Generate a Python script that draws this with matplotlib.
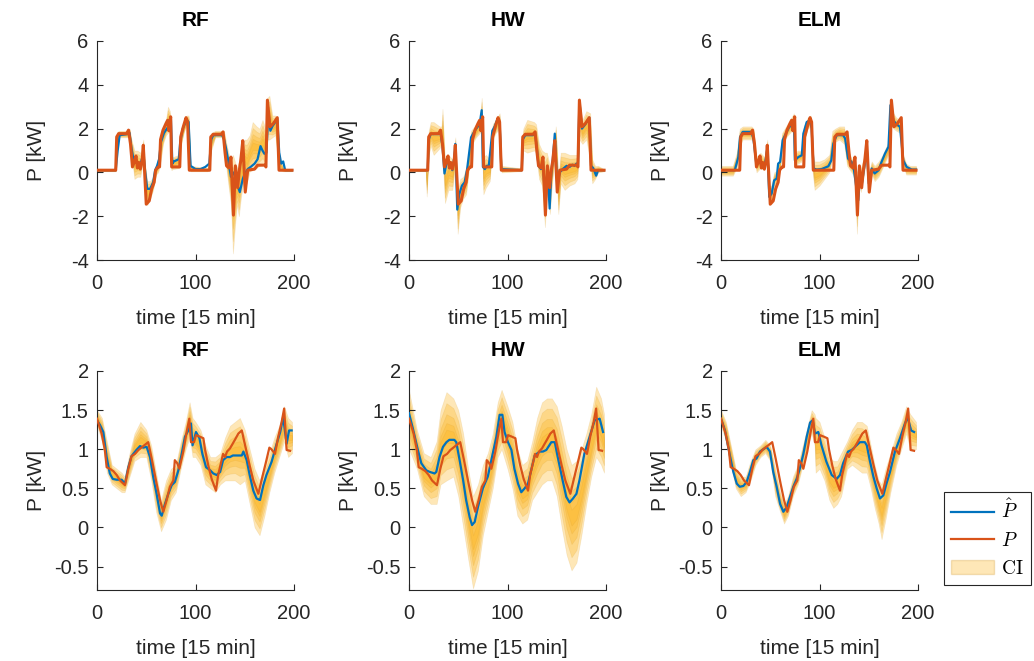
import numpy as np
import matplotlib
matplotlib.use('Agg')
import matplotlib.pyplot as plt
from matplotlib.patches import Patch
from matplotlib.lines import Line2D

plt.rcParams['font.family'] = ['Liberation Sans', 'DejaVu Sans']
plt.rcParams['mathtext.fontset'] = 'cm'

# ---------------- data ----------------
models = ['RF', 'HW', 'ELM']
x_ticks = [0, 100, 200]
top_yticks = [-4, -2, 0, 2, 4, 6]
top_yticklabels = ['-4', '-2', '0', '2', '4', '6']
bot_yticks = [-0.5, 0, 0.5, 1, 1.5, 2]
bot_yticklabels = ['-0.5', '0', '0.5', '1', '1.5', '2']

# --- top row: measured P ---
t_top_P = [0, 19, 20, 22, 30, 32, 34, 36, 38, 39.6, 41, 42.5, 44, 46, 47, 48.7, 50, 53, 55.5, 58,
           59.5, 62, 63.5, 64.5, 67, 70, 71.7, 73, 74.8, 75.8, 84, 85, 87.6, 90.4, 92, 93.7, 114.5,
           115.5, 118, 126, 128, 130, 131.5, 134, 136, 138.5, 140.5, 142.8, 144.5, 146, 148, 150.5,
           153, 160, 163, 170.5, 171.5, 173, 175.6, 179, 183, 184.8, 198]
P_top = [0.1, 0.1, 1.62, 1.77, 1.77, 1.93, 1.3, 0.25, 0.5, 0.75, 0.2, 0.45, 0.15, 0.6, 1.24, -0.3,
         -1.45, -1.3, -0.75, -0.45, 0.1, 0.25, 0.25, 1.5, 1.93, 2.23, 2.38, 1.9, 2.54, 0.25, 0.25,
         1.62, 2.08, 2.5, 2.3, 0.1, 0.1, 1.62, 1.74, 1.74, 1.85, 0.9, 0.3, 0.2, 0.7, -1.95, 0.3,
         -0.7, 0.1, 0.55, 1.45, -0.9, 0.1, 0.15, 0.33, 0.33, 0.25, 3.3, 2.08, 2.23, 2.5, 0.1, 0.1]

# --- top row: RF ---
t_top_rf = [0, 19, 21, 23, 31, 33, 35, 37, 40, 43, 45, 47, 49, 51, 54, 57, 59, 61, 63, 65, 68, 71,
            73, 75, 76.5, 78, 83, 84.5, 87, 91, 93, 95, 100, 105, 110, 114, 116, 118, 127, 129, 131,
            133, 136, 139, 142, 145, 148, 150, 153, 156, 160, 163, 166, 168, 170, 172, 174, 176,
            178, 181, 183, 185, 187, 189, 191, 198]
Phat_top_rf = [0.1, 0.1, 1.0, 1.7, 1.75, 1.8, 1.1, 0.6, 0.45, 0.4, 0.5, 0.9, 0.0, -0.75, -0.75,
               -0.45, 0.1, 0.3, 0.6, 1.4, 1.8, 2.0, 2.1, 2.5, 0.4, 0.5, 0.6, 1.4, 2.0, 2.4, 2.3,
               0.3, 0.15, 0.15, 0.25, 0.4, 1.5, 1.7, 1.7, 1.5, 1.1, 0.6, -0.2, 0.0, -0.5, -0.9,
               -0.3, -0.05, 0.15, 0.25, 0.4, 0.6, 1.2, 1.0, 0.85, 0.9, 2.8, 1.9, 2.1, 2.3, 2.45,
               0.9, 0.4, 0.5, 0.1, 0.1]
tci_top_rf = [0, 19, 20, 22, 31, 33, 35, 38, 41, 44, 47, 49, 51, 54, 57, 60, 62, 64, 67, 70, 72,
              74, 75.5, 77, 83, 85, 88, 91, 93, 95, 112, 114, 116, 120, 127, 129, 131, 134, 136,
              138, 140, 142, 144, 146, 148, 150, 152, 155, 158, 162, 165, 168, 171, 173, 175, 178,
              181, 184, 186, 189, 192, 198]
lo_top_rf = [0.05, 0.05, 0.8, 1.6, 1.6, 1.6, 0.8, -0.3, -0.2, -0.2, 0.6, -0.7, -1.5, -1.2, -0.8,
             -0.1, 0.0, 0.3, 1.3, 1.7, 1.8, 1.9, 0.1, 0.15, 0.2, 1.2, 1.8, 2.2, 2.0, 0.05, 0.05,
             0.1, 1.0, 1.6, 1.6, 1.2, 0.3, -0.8, -1.5, -3.7, -2.5, -1.5, -2.0, -1.2, -0.6, -0.2,
             -0.5, 0.05, 0.1, 0.2, 0.3, 0.4, 0.2, 1.5, 1.5, 1.6, 1.7, 0.4, 0.1, 0.05, 0.05, 0.05]
hi_top_rf = [0.15, 0.15, 1.8, 1.9, 1.9, 2.0, 1.5, 1.0, 1.0, 0.9, 1.5, 0.3, -0.4, -0.4, -0.2, 0.3,
             0.7, 1.6, 2.0, 2.4, 3.0, 2.8, 0.7, 0.7, 0.8, 1.7, 2.2, 2.6, 2.6, 0.3, 0.2, 0.5, 1.8,
             1.9, 1.9, 1.9, 1.4, 0.8, 0.5, 0.8, 0.5, 0.2, 0.5, 1.0, 1.2, 1.5, 1.5, 1.7, 2.3, 2.1,
             2.0, 2.4, 2.0, 3.4, 3.5, 2.6, 2.6, 1.2, 0.6, 0.2, 0.15, 0.15]

# --- top row: HW ---
t_top_hw = [0, 19, 20, 22, 30, 32, 34, 36, 38, 39.6, 41, 42.5, 44, 46, 47, 49, 51, 53.8, 56.5, 59,
            63, 66.7, 70, 71.7, 73.8, 75, 77, 79, 81, 84.6, 87, 90, 92, 93.7, 114.5, 115.5, 118,
            126, 128, 130, 131.5, 134, 136, 138.5, 140.5, 142.8, 144.5, 146, 148, 150.5, 153, 156,
            160, 163, 166, 168, 170, 171.5, 173, 175.6, 179, 183, 184.8, 187, 190, 192, 198]
Phat_top_hw = [0.1, 0.1, 1.5, 1.75, 1.75, 1.8, 1.2, -0.05, 0.4, 0.6, 0.2, 0.35, 0.1, 0.7, 1.3,
               -1.7, -1.0, -0.6, -0.45, 0.15, 1.6, 1.9, 2.1, 2.2, 2.84, 0.25, 0.15, 0.3, 0.3,
               1.9, 2.1, 2.45, 2.3, 0.15, 0.1, 1.5, 1.7, 1.7, 1.8, 1.0, 0.3, 0.15, 0.5, -1.6,
               0.1, -1.65, 0.0, 0.6, 1.77, -0.6, 0.0, 0.15, 0.3, 0.25, 0.35, 0.3, 0.4, 0.3, 3.25,
               2.0, 2.2, 2.5, 0.3, 0.2, -0.15, 0.1, 0.1]
tci_top_hw = [0, 17, 18, 19, 20, 22, 25, 31, 33, 34, 36.5, 40, 44, 46, 47, 49.4, 52, 55, 58, 60,
              63, 68, 72, 73.8, 75.5, 78, 82, 85, 88, 92, 94, 112, 114, 116, 120, 127, 129, 132,
              135, 138, 140, 143, 145, 147, 149, 151.6, 154, 158, 163, 168, 171, 173, 176, 180,
              184, 186, 189, 192, 198]
lo_top_hw = [0.05, 0.05, -1.1, 0.05, 0.8, 1.2, 0.8, 1.1, 1.3, 0.8, -1.4, -0.8, -0.8, 0.0, 0.9,
             -2.8, -1.6, -1.2, -1.0, -0.2, 1.2, 1.6, 1.8, 1.9, -1.0, -0.7, -0.4, 1.5, 1.8, 2.0,
             0.0, 0.05, 0.05, 1.0, 0.9, 1.0, 0.9, -0.3, -0.6, -2.5, -0.7, -1.9, -0.6, 0.3, 0.9,
             -1.9, -0.5, -0.8, -0.6, -0.5, -0.3, 1.5, 1.3, 1.5, 0.5, -0.5, -0.3, 0.0, 0.05]
hi_top_hw = [0.15, 0.15, 0.2, 0.15, 1.9, 2.3, 2.3, 2.1, 2.1, 2.9, 0.5, 0.8, 0.6, 1.0, 1.6, -0.8,
             -0.3, -0.2, 0.2, 0.5, 1.9, 2.2, 2.5, 3.4, 0.7, 0.8, 0.6, 2.2, 2.4, 2.7, 0.3, 0.2, 0.3,
             2.0, 2.4, 2.3, 2.2, 1.3, 1.0, 0.9, 0.9, 0.3, 0.5, 1.2, 2.1, -0.2, 0.9, 0.9, 0.8, 0.8,
             0.8, 3.4, 2.4, 2.8, 2.7, 0.6, 0.3, 0.3, 0.15]

# --- top row: ELM ---
t_top_elm = [0, 14, 17.6, 19.3, 22, 31, 33, 36, 39.6, 41, 44.7, 47, 49, 51.4, 54, 56.5, 58, 60,
             62.6, 66.7, 70, 72.4, 74, 75, 78.5, 82, 83.6, 87, 90.4, 92, 94, 97, 102, 109, 112,
             114, 117.4, 124, 126, 129, 132.6, 135, 137.7, 139.4, 141, 142.8, 145.5, 148, 150,
             153, 156, 160, 163, 166.5, 170, 172, 175, 178, 181.7, 185, 188.5, 193.6, 198]
Phat_top_elm = [0.1, 0.1, 0.7, 1.6, 1.85, 1.85, 1.5, 0.33, 0.63, 0.25, 0.4, 1.1, -1.12, -0.97,
                -0.36, -0.28, 0.4, 0.48, 1.47, 1.85, 2.15, 2.05, 2.3, 0.55, 0.7, 0.78, 1.77, 2.3,
                2.38, 2.0, 0.18, 0.13, 0.15, 0.28, 0.55, 1.3, 1.7, 1.7, 1.55, 0.63, 0.48, 0.1,
                -0.8, -1.27, -0.2, -0.58, 0.25, 1.1, -0.5, 0.18, -0.05, 0.1, 0.48, 0.86, 1.17,
                3.07, 2.38, 2.2, 2.08, 0.55, 0.25, 0.13, 0.13]
tci_top_elm = [0, 12, 16, 19, 22, 31, 33, 36, 40, 44, 47, 49, 51, 54, 57, 60, 62, 66, 70, 74, 75,
               78, 82, 84, 88, 91, 93, 95, 100, 105, 110, 113, 116, 120, 125, 128, 131, 134, 136,
               138, 140, 142, 145, 148, 150, 153, 156, 160, 164, 168, 171, 172, 175, 178, 182,
               185, 188, 192, 198]
lo_top_elm = [-0.15, -0.15, 0.2, 1.2, 1.5, 1.5, 1.4, 0.0, 0.2, 0.1, 0.7, -1.5, -1.3, -0.6, -0.5,
              0.1, 1.1, 1.6, 1.8, 2.0, 0.3, 0.4, 0.5, 1.4, 2.0, 2.1, 0.0, -0.8, -0.6, -0.3, 0.0,
              0.6, 1.4, 1.5, 1.3, 0.3, 0.1, -0.1, -0.5, -2.8, -0.5, -0.9, -0.1, 0.7, -0.8, -0.1,
              -0.4, -0.2, 0.2, 0.6, 0.9, 2.6, 2.0, 1.9, 1.8, 0.3, -0.1, -0.1, -0.1]
hi_top_elm = [0.3, 0.3, 0.9, 2.0, 2.1, 2.1, 2.0, 0.7, 0.9, 0.7, 1.5, -0.6, -0.6, 0.0, 0.1, 0.8,
              1.8, 2.1, 2.4, 2.7, 0.9, 1.0, 1.0, 2.1, 2.5, 2.6, 1.0, 0.5, 0.5, 0.6, 0.8, 1.9, 2.0,
              2.1, 2.1, 1.1, 0.8, 0.5, 0.6, 0.0, 0.3, 0.2, 0.7, 1.5, 0.0, 0.5, 0.3, 0.5, 0.8, 1.2,
              1.5, 3.3, 2.7, 2.5, 2.4, 0.8, 0.4, 0.3, 0.3]

# --- bottom row: measured P ---
t_bot_P = [0, 4.7, 8, 9.8, 13, 16.6, 20, 23.4, 28.4, 31.8, 35, 38.6, 42, 47, 52, 55.5, 60.5, 64,
           67.3, 70.7, 74, 77.5, 79, 81.5, 83.6, 87.6, 91, 93.7, 95.4, 98.5, 100.5, 104.5, 108,
           109.6, 113, 116.4, 120.8, 123, 128, 130, 132, 135, 140, 143.5, 147, 150, 155, 158.7,
           163.8, 167, 172, 175, 177, 180.7, 184, 187.5, 190, 192.5, 196]
P_bot = [1.39, 1.2, 0.99, 0.77, 0.75, 0.72, 0.67, 0.6, 0.54, 0.75, 0.91, 0.94, 0.99, 1.04, 1.09,
         0.88, 0.56, 0.35, 0.2, 0.35, 0.52, 0.6, 0.86, 0.82, 0.75, 0.97, 1.22, 1.39, 1.09, 1.09,
         1.18, 1.16, 1.14, 1.0, 0.79, 0.62, 0.47, 0.67, 0.94, 0.9, 0.97, 1.01, 1.12, 1.2, 1.24,
         1.07, 0.79, 0.6, 0.43, 0.6, 0.86, 1.02, 1.0, 0.94, 1.16, 1.35, 1.52, 0.99, 0.98]

# --- bottom row: RF ---
t_bot_rf = [0, 3, 6.4, 9.8, 13, 16, 20, 25, 28.4, 31.8, 35, 40, 43.7, 47, 50.4, 53.8, 57, 60.5,
            64, 65.7, 69, 72.4, 75.8, 79, 82.6, 86, 89.3, 92.7, 95.4, 97, 100.5, 104, 107, 110.7,
            115, 118, 121.5, 125, 128, 131.6, 135, 138, 143.5, 147, 148.6, 152, 155, 158.7, 162,
            165.5, 168.9, 172, 177.3, 182.4, 186, 189, 192.5, 195, 197.6]
Phat_bot_rf = [1.37, 1.31, 1.22, 0.9, 0.69, 0.62, 0.61, 0.61, 0.56, 0.77, 0.91, 0.99, 1.04, 1.02,
               1.03, 0.9, 0.65, 0.43, 0.18, 0.15, 0.3, 0.43, 0.54, 0.58, 0.73, 0.94, 1.16, 1.24,
               1.33, 1.05, 1.22, 1.14, 0.94, 0.77, 0.73, 0.69, 0.67, 0.71, 0.86, 0.9, 0.9, 0.92,
               0.92, 0.92, 0.97, 0.86, 0.67, 0.47, 0.37, 0.35, 0.54, 0.67, 0.84, 1.07, 1.22, 1.41,
               1.07, 1.24, 1.24]
tci_bot_rf = [0, 5, 10, 15, 20, 25, 28, 33, 38, 44, 50, 55, 60, 65, 70, 75, 80, 85, 90, 94, 97,
              100, 105, 110, 115, 120, 125, 130, 135, 140, 145, 150, 155, 160, 165, 170, 175, 180,
              185, 190, 194, 198]
lo_bot_rf = [1.3, 1.1, 0.7, 0.55, 0.5, 0.45, 0.45, 0.65, 0.85, 0.9, 0.9, 0.6, 0.2, -0.05, 0.1,
             0.35, 0.45, 0.75, 1.0, 1.15, 0.9, 0.9, 0.8, 0.55, 0.5, 0.45, 0.55, 0.6, 0.6, 0.6,
             0.55, 0.6, 0.3, 0.0, -0.1, 0.15, 0.45, 0.7, 0.9, 1.1, 0.9, 0.95]
hi_bot_rf = [1.5, 1.4, 1.1, 0.8, 0.75, 0.7, 0.65, 0.95, 1.2, 1.35, 1.25, 1.05, 0.7, 0.35, 0.6,
             0.75, 0.8, 1.1, 1.35, 1.6, 1.4, 1.35, 1.25, 1.05, 0.9, 0.9, 0.95, 1.15, 1.3, 1.35,
             1.4, 1.25, 1.0, 0.75, 0.6, 0.8, 0.95, 1.15, 1.3, 1.55, 1.4, 1.35]

# --- bottom row: HW ---
t_bot_hw = [0, 4, 9, 12.5, 17.6, 21, 26, 27.7, 31, 34.5, 38, 41, 46, 48, 51.4, 55, 58, 61.6, 64,
            66.7, 70, 75, 80, 83.6, 88.7, 92, 94.8, 97, 100.5, 104, 107, 110.7, 114, 117.4, 120.8,
            124, 127.6, 132.7, 136, 139.4, 144.5, 148, 151, 156, 159.7, 163, 166.5, 170, 173, 178,
            183.4, 188.5, 193.6, 197]
Phat_bot_hw = [1.46, 1.26, 0.99, 0.82, 0.73, 0.71, 0.69, 0.71, 0.9, 1.03, 1.09, 1.12, 1.12, 1.09,
               0.86, 0.6, 0.35, 0.13, 0.03, 0.07, 0.26, 0.5, 0.65, 0.86, 1.16, 1.44, 1.44, 1.22,
               1.09, 0.99, 0.75, 0.56, 0.45, 0.5, 0.56, 0.73, 0.92, 0.97, 0.97, 0.99, 1.09, 1.09,
               0.9, 0.6, 0.39, 0.32, 0.37, 0.43, 0.6, 0.94, 1.16, 1.37, 1.39, 1.22]
tci_bot_hw = [0, 8, 15, 22, 28, 32, 38, 45, 50, 55, 60, 65, 70, 75, 80, 85, 90, 94, 100, 105, 110,
              115, 120, 125, 130, 135, 140, 145, 150, 155, 160, 165, 170, 175, 180, 185, 190, 195,
              198]
lo_bot_hw = [1.0, 0.75, 0.4, 0.3, 0.3, 0.55, 0.6, 0.65, 0.4, 0.0, -0.4, -0.78, -0.55, -0.1, 0.2,
             0.5, 0.9, 1.0, 0.75, 0.5, 0.15, 0.05, 0.1, 0.35, 0.45, 0.55, 0.6, 0.6, 0.4, 0.0,
             -0.35, -0.55, -0.45, -0.1, 0.3, 0.65, 0.9, 0.8, 0.7]
hi_bot_hw = [1.75, 1.25, 0.95, 0.9, 1.1, 1.5, 1.73, 1.65, 1.5, 1.2, 0.75, 0.4, 0.55, 0.8, 0.95,
             1.2, 1.6, 1.76, 1.55, 1.35, 1.0, 0.8, 0.85, 1.1, 1.4, 1.6, 1.65, 1.65, 1.55, 1.3,
             1.0, 0.8, 0.85, 1.0, 1.2, 1.45, 1.8, 1.65, 1.45]

# --- bottom row: ELM ---
t_bot_elm = [0, 4, 9, 12.5, 16, 19, 22.7, 26, 29.4, 32.8, 36, 39.6, 43, 46.4, 49.7, 53, 56.5, 60,
             63.3, 66.7, 70, 73.4, 76.8, 80, 83.6, 87, 90.4, 93, 95.4, 98.8, 102, 107, 112.4,
             117.4, 120.8, 124, 129, 132.7, 136, 141, 146, 148, 151, 154.7, 158, 161.4, 164.8,
             168, 171.6, 176.6, 181.7, 186.8, 189.5, 193, 196]
Phat_bot_elm = [1.39, 1.24, 0.92, 0.71, 0.56, 0.52, 0.53, 0.58, 0.71, 0.86, 0.88, 0.97, 1.0, 1.03,
                0.97, 0.71, 0.52, 0.3, 0.2, 0.26, 0.39, 0.52, 0.62, 0.75, 0.94, 1.16, 1.34, 1.37,
                1.2, 1.22, 1.05, 0.84, 0.67, 0.62, 0.67, 0.82, 0.97, 0.99, 1.03, 1.09, 1.09, 1.05,
                0.86, 0.65, 0.5, 0.37, 0.41, 0.56, 0.71, 0.97, 1.14, 1.33, 1.41, 1.24, 1.22]
tci_bot_elm = [0, 5, 10, 15, 20, 25, 30, 35, 40, 45, 50, 55, 60, 64, 68, 73, 78, 83, 88, 92, 95,
               96, 100, 105, 110, 114, 118, 122, 128, 133, 138, 143, 148, 152, 156, 160, 163, 167,
               172, 178, 183, 188, 192, 198]
lo_bot_elm = [1.3, 1.1, 0.8, 0.5, 0.4, 0.45, 0.6, 0.8, 0.9, 0.95, 0.85, 0.4, 0.2, 0.05, 0.15,
              0.4, 0.55, 0.8, 1.05, 1.2, 1.05, 0.7, 0.75, 0.6, 0.35, 0.25, 0.3, 0.4, 0.75, 0.8,
              0.75, 0.7, 0.7, 0.5, 0.25, 0.05, -0.15, 0.1, 0.45, 0.8, 1.0, 1.2, 1.0, 1.0]
hi_bot_elm = [1.5, 1.35, 1.05, 0.75, 0.65, 0.65, 0.85, 1.0, 1.05, 1.12, 1.05, 0.75, 0.45, 0.3,
              0.4, 0.65, 0.8, 1.05, 1.3, 1.5, 1.45, 1.4, 1.35, 1.15, 0.9, 0.85, 0.85, 0.95, 1.1,
              1.25, 1.35, 1.35, 1.3, 1.05, 0.8, 0.6, 0.55, 0.75, 0.95, 1.2, 1.35, 1.55, 1.45, 1.35]

top_series = [(t_top_rf, Phat_top_rf, tci_top_rf, lo_top_rf, hi_top_rf),
              (t_top_hw, Phat_top_hw, tci_top_hw, lo_top_hw, hi_top_hw),
              (t_top_elm, Phat_top_elm, tci_top_elm, lo_top_elm, hi_top_elm)]
bot_series = [(t_bot_rf, Phat_bot_rf, tci_bot_rf, lo_bot_rf, hi_bot_rf),
              (t_bot_hw, Phat_bot_hw, tci_bot_hw, lo_bot_hw, hi_bot_hw),
              (t_bot_elm, Phat_bot_elm, tci_bot_elm, lo_bot_elm, hi_bot_elm)]

# ---------------- style ----------------
BLUE = '#0072BD'
ORANGE = '#D95319'
CI_RGB = (0.99, 0.72, 0.15)
CI_ALPHA = 0.33
ci_levels = [1.0, 0.75, 0.5, 0.3, 0.15]
AX_COLOR = '#262626'

col_left = [97 / 1034, 409 / 1034, 721 / 1034]
ax_w = 197 / 1034
ax_h = 219 / 661
row_bottom = [1 - 260 / 661, 1 - 590 / 661]

fig = plt.figure(figsize=(10.34, 6.61), dpi=100)


def draw_ci(ax, t, lo, hi):
    t = np.asarray(t, float)
    lo = np.asarray(lo, float)
    hi = np.asarray(hi, float)
    mid = (lo + hi) / 2
    half = (hi - lo) / 2
    for f in ci_levels:
        ax.fill_between(t, mid - f * half, mid + f * half,
                        facecolor=CI_RGB + (CI_ALPHA,),
                        edgecolor=(0.8, 0.55, 0.1, 0.15), linewidth=0.5)


def style_axes(ax, yticks, yticklabels, ylim):
    ax.set_xlim(0, 200)
    ax.set_ylim(*ylim)
    ax.set_xticks(x_ticks)
    ax.set_xticklabels([str(v) for v in x_ticks])
    ax.set_yticks(yticks)
    ax.set_yticklabels(yticklabels)
    for s in ['top', 'right']:
        ax.spines[s].set_visible(False)
    for s in ['left', 'bottom']:
        ax.spines[s].set_color(AX_COLOR)
        ax.spines[s].set_linewidth(0.8)
    ax.tick_params(direction='in', length=4, width=0.8, colors=AX_COLOR,
                   labelsize=14.5, pad=6)
    ax.tick_params(axis='x', pad=10)
    ax.set_xlabel('time [15 min]', fontsize=15, color=AX_COLOR)
    ax.set_ylabel('P [kW]', fontsize=15, color=AX_COLOR)
    ax.xaxis.set_label_coords(0.5, -0.222)
    ax.yaxis.set_label_coords(-0.26, 0.5)


for r, (series, Pt, Pv, yticks, ylabels, ylim, lw_o) in enumerate([
        (top_series, t_top_P, P_top, top_yticks, top_yticklabels, (-4, 6), 2.2),
        (bot_series, t_bot_P, P_bot, bot_yticks, bot_yticklabels, (-0.8, 2), 1.6)]):
    for c in range(3):
        ax = fig.add_axes([col_left[c], row_bottom[r], ax_w, ax_h])
        tt, ph, tci, lo, hi = series[c]
        draw_ci(ax, tci, lo, hi)
        ax.plot(tt, ph, color=BLUE, lw=1.6, zorder=3)
        ax.plot(Pt, Pv, color=ORANGE, lw=lw_o, zorder=4)
        style_axes(ax, yticks, ylabels, ylim)
        ax.set_title(models[c], fontsize=15, fontweight='bold', pad=11, color='black')

handles = [Line2D([], [], color=BLUE, lw=1.6),
           Line2D([], [], color=ORANGE, lw=1.6),
           Patch(facecolor=CI_RGB + (CI_ALPHA,), edgecolor=(0.8, 0.55, 0.1, 0.25))]
leg = fig.legend(handles, [r'$\hat{P}$', r'$P$', r'$\mathrm{CI}$'],
                 loc='upper left', bbox_to_anchor=(944 / 1034, 1 - 492 / 661),
                 fontsize=14, frameon=True, fancybox=False, framealpha=1,
                 edgecolor=AX_COLOR, handlelength=2.2, labelspacing=0.5,
                 borderpad=0.35, handletextpad=0.4, borderaxespad=0)
leg.get_frame().set_linewidth(0.8)

fig.savefig('out.png', dpi=100)
